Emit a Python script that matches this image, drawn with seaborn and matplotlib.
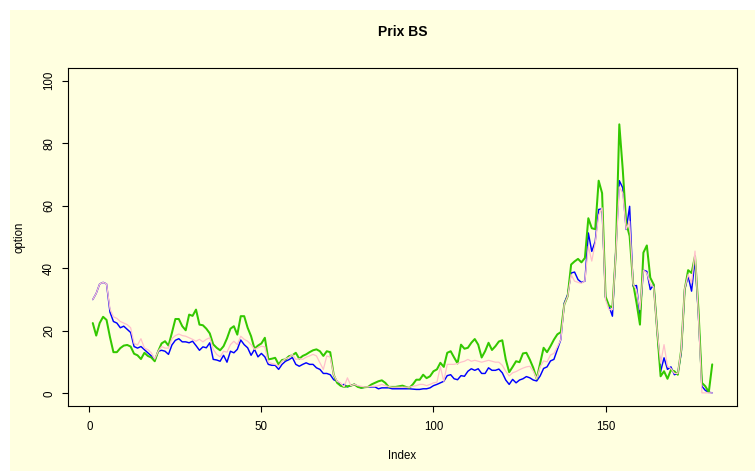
import matplotlib
matplotlib.use("Agg")
import matplotlib.pyplot as plt
from matplotlib.patches import Rectangle
import numpy as np
import pandas as pd
import seaborn as sns

# Option prices over the index, three price series
prix_bleu = [
    30, 32, 35, 35.5, 35, 26, 23, 22.5, 21, 21.5,
    20.5, 19.5, 15, 14.5, 15, 14, 13, 12, 10.5, 13.5,
    13.8, 13.5, 12.5, 15.5, 17, 17.5, 16.5, 16.5, 16.2, 16.7,
    15.3, 13.8, 14.9, 14.6, 16.2, 10.9, 10.7, 10.3, 12.2, 10,
    13.5, 13, 14.1, 17.1, 15.6, 14.6, 12.2, 14.1, 11.7, 12.8,
    11.7, 9.3, 9, 9, 7.7, 9.3, 10.3, 10.8, 11.5, 9.3,
    8.7, 9.3, 9.8, 9.3, 9.3, 8.2, 7.7, 6.4, 6.4, 6,
    4.4, 3.9, 2.5, 2.9, 2.1, 2.5, 2.9, 2.3, 1.8, 2,
    2, 2.1, 2.1, 1.5, 1.8, 1.8, 1.8, 1.5, 1.5, 1.5,
    1.5, 1.5, 1.5, 1.4, 1.3, 1.3, 1.5, 1.5, 1.8, 2.5,
    2.9, 3.4, 3.9, 5.7, 6, 4.7, 4.4, 5.7, 5.5, 7.1,
    7.9, 7.4, 7.9, 6.4, 6.4, 8.2, 7.4, 7.4, 7.8, 6.6,
    4.3, 2.9, 4.5, 3.4, 4.3, 4.7, 5.4, 5, 4.3, 4,
    5.6, 8, 8.5, 10.4, 10.9, 14.1, 17.2, 28.9, 31.6, 38.5,
    38.8, 36.4, 35.5, 35.9, 51.3, 45.4, 48.6, 58.8, 59, 30.5,
    27.9, 24.7, 46, 68, 65.7, 52.4, 59.8, 34.3, 34.5, 25,
    39.4, 39, 33.2, 34.8, 20, 7, 11.4, 7.7, 8.5, 6,
    6.4, 13, 33.2, 37.5, 32.7, 42.8, 24.7, 2.3, 1, 0.4,
    0.2,
]

prix_rose = [
    30, 32, 35, 35.5, 35, 27, 24.5, 24, 23, 22.5,
    22, 21, 16, 15.5, 17.5, 14.5, 14, 13, 11, 13.5,
    15, 14.5, 14.5, 17.5, 18.5, 19, 18.5, 18.3, 17.8, 17.3,
    16.7, 17.3, 16.5, 17.3, 17.8, 14.1, 12.5, 11.7, 13.5, 13.2,
    15.6, 16.7, 15.6, 18.3, 17.3, 16.7, 15.6, 14.1, 14.6, 15.1,
    14.9, 10, 9.6, 9.3, 8.7, 10.3, 11.1, 11.5, 12.5, 10.9,
    11.1, 10.9, 11.6, 12, 12.5, 12, 9.8, 7.7, 12, 11.6,
    6, 3.9, 3.4, 2.1, 5, 2.5, 2.9, 2.5, 2.3, 2.1,
    2.1, 2.3, 2.3, 2.5, 2.9, 2.5, 2.2, 2, 2, 2,
    2, 2, 2, 2.3, 2.5, 2.9, 2.9, 2.5, 2.9, 3.4,
    3.6, 8.5, 3.9, 9.3, 9.3, 9.3, 9.6, 10, 10.3, 10.9,
    10.3, 10.6, 10.3, 10, 10.3, 10.6, 10.3, 10, 10, 9,
    7.1, 5.6, 6.6, 7, 7.6, 8.1, 8.5, 8.7, 7.1, 4.7,
    8.5, 10.4, 10.1, 12.3, 12.8, 14.9, 17.2, 28.4, 31.1, 38,
    35.9, 35.5, 35.2, 36, 47, 42.3, 48, 57, 59.3, 30,
    26.8, 26.8, 45, 66, 64, 52.5, 55, 35, 33, 26.8,
    39.4, 38.5, 35, 34, 20, 9.7, 15.6, 8.7, 8, 6.4,
    6.4, 14, 33.5, 38, 35.3, 45.5, 24.7, 0.2, 0.2, 0.2,
    0.2,
]

prix_vert = [
    22.5, 18.5, 22.5, 24.5, 23.5, 18, 13.2, 13.2, 14.5, 15.3,
    15.5, 15, 12.7, 12.2, 11, 13, 12, 11.5, 10.3, 13.5,
    16, 16.7, 15.3, 19.4, 23.8, 23.8, 21.5, 20.2, 25.2, 24.8,
    26.8, 22, 21.8, 20.7, 19.2, 15.7, 14.6, 13.8, 15.1, 17.6,
    20.7, 21.5, 18.8, 24.7, 24.7, 21, 18.3, 14.3, 15.3, 16,
    17.8, 10.9, 11.1, 11.4, 9.3, 10.7, 10.9, 11.9, 12.2, 13,
    11.1, 12, 12.5, 13.2, 13.8, 14.1, 13.5, 12, 13.5, 13.2,
    6, 3.4, 2.5, 2.1, 2.3, 2.5, 2.9, 2.1, 1.8, 2,
    2.1, 2.9, 3.4, 3.9, 4.2, 3.4, 2.1, 2.1, 2.1, 2.3,
    2.5, 2.1, 1.8, 2.9, 4.4, 4.4, 6, 4.9, 5.5, 7.1,
    7.7, 9.8, 8.5, 13, 13.5, 11.5, 9.6, 15.6, 14.3, 14.6,
    16.2, 17.4, 15.6, 11.5, 13.5, 16.2, 13.9, 15.1, 16.6, 17,
    10.9, 6.8, 8.5, 10.3, 10, 12.8, 13, 10.8, 8.2, 4.7,
    9.6, 14.6, 13.2, 15.1, 17.2, 18.9, 19.6, 28.4, 31.1, 41.2,
    42.2, 43, 41.9, 43.3, 56, 52.8, 52.5, 68, 64, 31,
    28, 27.5, 45, 86, 71.6, 54.5, 50.3, 35.3, 29, 22,
    45, 47.3, 37, 34.8, 20, 5.5, 7.1, 4.7, 7.5, 7.1,
    6, 14, 33.2, 39.4, 38.5, 43.9, 26.8, 3.4, 2.3, 0.4,
    9.3,
]

x_ticks = [0, 50, 100, 150]
y_ticks = [0, 20, 40, 60, 80, 100]

df = pd.DataFrame({
    "Index": np.arange(1, len(prix_bleu) + 1),
    "bleu": prix_bleu,
    "rose": prix_rose,
    "vert": prix_vert,
})

sns.set_theme(style="ticks")
plt.rcParams["font.family"] = ["Liberation Sans", "DejaVu Sans"]
plt.rcParams["text.color"] = "black"
plt.rcParams["axes.labelcolor"] = "black"

W, H = 755, 471
BG = "#FFFFE0"

fig = plt.figure(figsize=(W / 100, H / 100), dpi=100, facecolor="white")
# pale yellow sheet behind the plot, leaving a thin white margin top-left
fig.patches.append(Rectangle((10 / W, 0), 1 - 10 / W, 1 - 10 / H,
                             transform=fig.transFigure, facecolor=BG,
                             edgecolor="none", zorder=-5))

ax = fig.add_axes([68 / W, 65 / H, 669 / W, 338 / H])
ax.set_zorder(1)
ax.set_facecolor(BG)

line_kw = dict(solid_joinstyle="round", solid_capstyle="round")
sns.lineplot(data=df, x="Index", y="bleu", color="#0000FF", linewidth=1.05,
             ax=ax, estimator=None, **line_kw)
sns.lineplot(data=df, x="Index", y="vert", color="#33C800", linewidth=1.45,
             ax=ax, estimator=None, **line_kw)
sns.lineplot(data=df, x="Index", y="rose", color="#FFC0CB", linewidth=0.9,
             ax=ax, estimator=None, **line_kw)

n = len(prix_bleu)
pad_x = 0.04 * (n - 1)
ax.set_xlim(1 - pad_x, n + pad_x)
ax.set_ylim(-4, 104)

ax.set_xticks(x_ticks)
ax.set_yticks(y_ticks)
ax.set_xticklabels([str(v) for v in x_ticks])
ax.set_yticklabels([str(v) for v in y_ticks], rotation=90, va="center")

ax.tick_params(axis="both", direction="out", length=4.3, width=0.8,
               colors="black", labelsize=8.3)
ax.tick_params(axis="x", pad=6.5)
ax.tick_params(axis="y", pad=5)

for sp in ax.spines.values():
    sp.set_visible(True)
    sp.set_color("black")
    sp.set_linewidth(0.8)

ax.set_title("Prix BS", fontsize=10, fontweight="bold", color="black",
             y=(H - 40 - 65) / 338, va="center")
ax.set_xlabel("Index", fontsize=8.3, color="black")
ax.set_ylabel("option", fontsize=8.3, color="black")
ax.xaxis.set_label_coords(402.5 / W, 1 - 456 / H, transform=fig.transFigure)
ax.xaxis.label.set_va("center")
ax.yaxis.set_label_coords(20 / W, 1 - 237 / H, transform=fig.transFigure)
ax.yaxis.label.set_va("center")
ax.yaxis.label.set_ha("center")

fig.savefig("out.png", dpi=100, facecolor=fig.get_facecolor())
